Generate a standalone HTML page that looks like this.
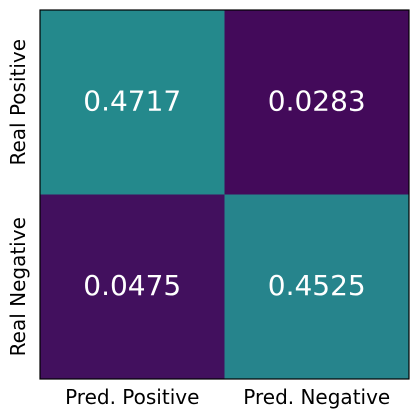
<!DOCTYPE html>
<html><head><meta charset="utf-8"><style>
html,body{margin:0;padding:0;background:#fff;width:419px;height:419px;overflow:hidden}
svg{display:block;font-family:"DejaVu Sans","Liberation Sans",sans-serif}
</style></head><body>
<svg id="chart" width="419" height="419"></svg>
<script>
const rowLabels = ["Real Positive","Real Negative"];
const colLabels = ["Pred. Positive","Pred. Negative"];
const values = [[0.4717,0.0283],[0.0475,0.4525]];
const NS="http://www.w3.org/2000/svg";
const svg=document.getElementById('chart');
const L=40,T=10,R=409,B=379;
const cw=(R-L)/colLabels.length, ch=(B-T)/rowLabels.length;
function viridis(t){
  const stops=[[0,[68,1,84]],[0.25,[59,82,139]],[0.5,[33,145,140]],[0.75,[94,201,98]],[1,[253,231,37]]];
  t=Math.max(0,Math.min(1,t));
  for(let i=0;i<stops.length-1;i++){const a=stops[i],b=stops[i+1];
    if(t<=b[0]){const f=(t-a[0])/(b[0]-a[0]);return 'rgb('+a[1].map((v,k)=>Math.round(v+(b[1][k]-v)*f)).join(',')+')';}}
}
function colorFor(v){return viridis(v*0.99);}
function el(tag,attrs){const e=document.createElementNS(NS,tag);for(const k in attrs)e.setAttribute(k,attrs[k]);svg.appendChild(e);return e;}
values.forEach((row,i)=>row.forEach((v,j)=>{
  const r=el('rect',{x:L+j*cw,y:T+i*ch,width:cw,height:ch,fill:colorFor(v)});
  
  
  const t=el('text',{x:L+j*cw+cw/2,y:T+i*ch+ch/2+8,'text-anchor':'middle','font-size':'28',fill:'#fff'});
  t.textContent=v.toFixed(4);
  
  
}));
const fr=el('rect',{x:L,y:T,width:R-L,height:B-T,fill:'none',stroke:'#000','stroke-width':1.2});


colLabels.forEach((c,j)=>{
  const t=el('text',{x:L+j*cw+cw/2,y:404,'text-anchor':'middle','font-size':'20',fill:'#000'});
  t.textContent=c;
  
  
});
rowLabels.forEach((c,i)=>{
  const x=25,y=T+i*ch+ch/2;
  const t=el('text',{x:x,y:y,'text-anchor':'middle','font-size':'20',fill:'#000',transform:'rotate(-90 '+x+' '+y+')'});
  t.textContent=c;
  
  
});
</script>
</body></html>
